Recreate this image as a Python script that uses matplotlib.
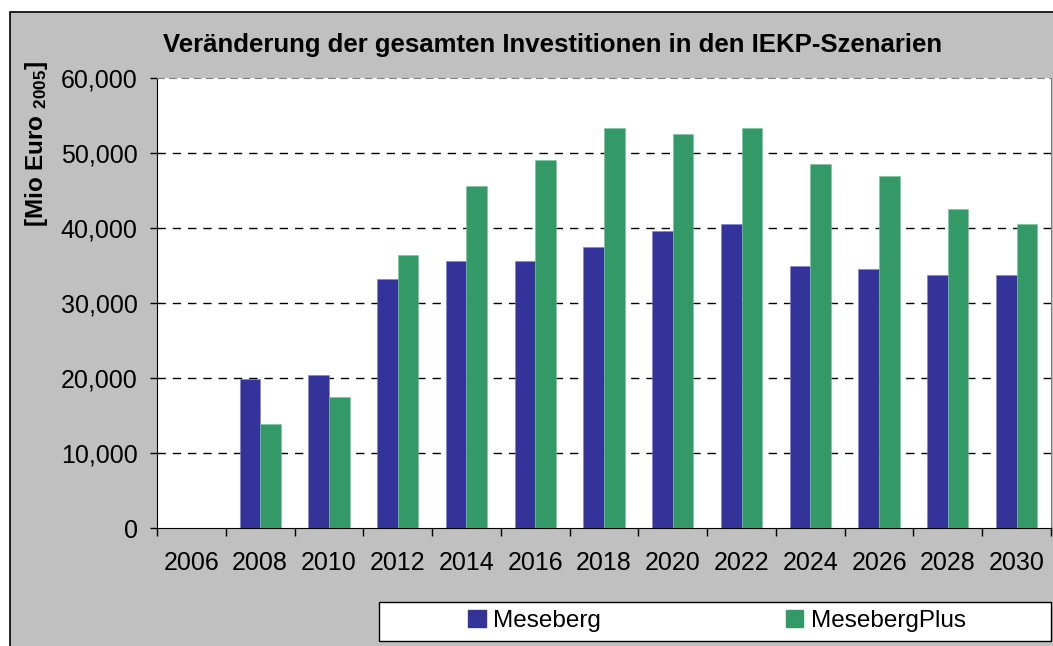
import matplotlib
matplotlib.use("Agg")
import matplotlib.pyplot as plt
from matplotlib.patches import Rectangle, Patch
from matplotlib.ticker import FuncFormatter, FixedLocator
import numpy as np

years = ["2006", "2008", "2010", "2012", "2014", "2016", "2018", "2020",
         "2022", "2024", "2026", "2028", "2030"]
meseberg = [0, 19900, 20400, 33200, 35600, 35600, 37450, 39550,
            40600, 34950, 34500, 33700, 33700]
meseberg_plus = [0, 13850, 17450, 36400, 45600, 49100, 53300, 52500,
                 53300, 48550, 47000, 42500, 40600]
series_names = ["Meseberg", "MesebergPlus"]
colors = ["#333399", "#339966"]
edge_colors = ["#8080c0", "#80c0a0"]

title = "Veränderung der gesamten Investitionen in den IEKP-Szenarien"

plt.rcParams['font.family'] = ['Liberation Sans', 'DejaVu Sans']
plt.rcParams['mathtext.fontset'] = 'custom'
plt.rcParams['mathtext.rm'] = 'Liberation Sans:bold'
plt.rcParams['mathtext.it'] = 'Liberation Sans:bold'
plt.rcParams['mathtext.bf'] = 'Liberation Sans:bold'

W, H = 1053, 646
fig = plt.figure(figsize=(W / 100, H / 100), dpi=100, facecolor="white")

# grey chart area with black frame
fig.patches.append(Rectangle((10 / W, -0.05), 1.2, 1 - 12 / H + 0.05,
                             transform=fig.transFigure, facecolor="#C0C0C0",
                             edgecolor="black", linewidth=1.2, zorder=-10))

ax = fig.add_axes([157 / W, 1 - 528 / H, 894 / W, 450 / H])
ax.set_zorder(2)
ax.set_facecolor("white")

x = np.arange(len(years))
bw = 0.3
for vals, off, c, ec in [(meseberg, -bw / 2, colors[0], edge_colors[0]),
                         (meseberg_plus, bw / 2, colors[1], edge_colors[1])]:
    bars = ax.bar(x + off, vals, width=bw, color=c, zorder=3,
                  edgecolor=ec, linewidth=0.4)
    for b, v in zip(bars, vals):
        if v == 0:
            b.set_linewidth(0)

ax.set_xlim(-0.5, len(years) - 0.5)
ax.set_ylim(0, 60000)
ax.set_yticks(np.arange(0, 60001, 10000))
ax.yaxis.set_major_formatter(FuncFormatter(lambda v, p: f"{int(v):,}"))
ax.set_axisbelow(True)
for yv in np.arange(10000, 60000, 10000):
    ax.axhline(yv, linestyle=(0, (6, 5)), color="black", linewidth=1.0, zorder=1)
ax.tick_params(axis="y", direction="out", length=5, width=1, labelsize=18,
               pad=9)

ax.set_xticks(x)
ax.set_xticklabels(years)
ax.xaxis.set_minor_locator(FixedLocator(np.arange(-0.5, len(years), 1.0)))
ax.tick_params(axis="x", which="major", length=0, labelsize=18, pad=16.5)
ax.tick_params(axis="x", which="minor", length=5.5, width=1, direction="out")

ax.spines["left"].set_color("black")
ax.spines["bottom"].set_color("black")
ax.spines["top"].set_color("#808080")
ax.spines["top"].set_linestyle((0, (6, 5)))
ax.spines["right"].set_color("#808080")

fig.text(553 / W, 1 - 45 / H, title, ha="center", va="center",
         fontsize=18.5, fontweight="bold")
fig.text(37 / W, 1 - 144 / H, r"[Mio Euro $_{2005}$]", rotation=90,
         ha="center", va="center", fontsize=17.5, fontweight="bold")

# legend box
fig.patches.append(Rectangle((379 / W, 1 - 641 / H), (1051 - 379) / W,
                             (641 - 602) / H, transform=fig.transFigure,
                             facecolor="white", edgecolor="black",
                             linewidth=1.0, zorder=1))
handles = [Patch(facecolor=c, edgecolor=c) for c in colors]
fig.legend(handles, series_names, loc="center",
           bbox_to_anchor=(717 / W, 1 - 621 / H), ncol=2, frameon=False,
           fontsize=17.5, handlelength=0.72, handleheight=0.72,
           handletextpad=0.3, columnspacing=7.6, borderpad=0)

fig.savefig("out.png", dpi=100, facecolor="white")
